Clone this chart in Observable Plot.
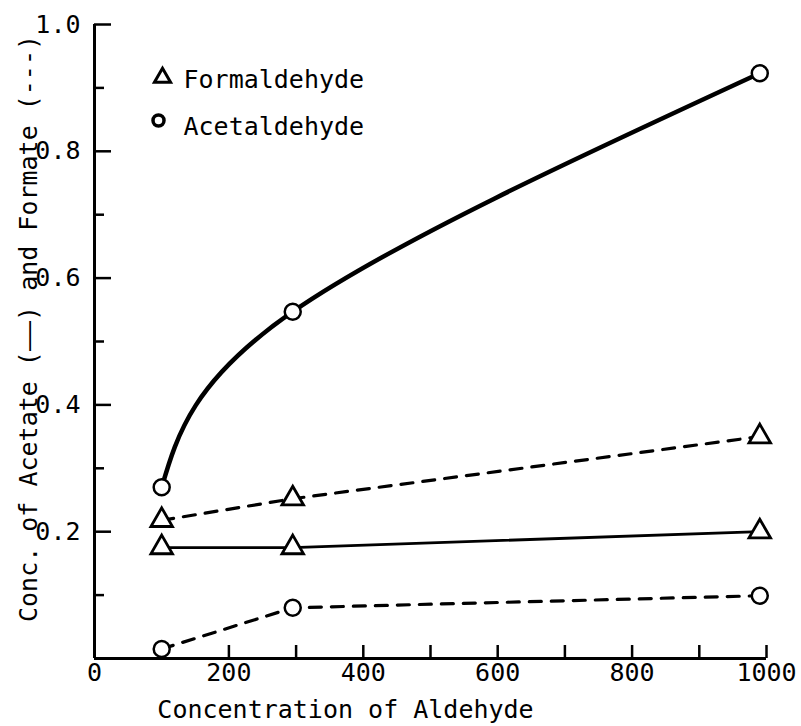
<!DOCTYPE html>
<html>
<head>
<meta charset="utf-8">
<script src="https://cdn.jsdelivr.net/npm/d3@7"></script>
<script src="https://cdn.jsdelivr.net/npm/@observablehq/plot@0.6"></script>
<style>
  body { margin: 0; background: #fff; }
  #chart { width: 801px; height: 726px; }
</style>
</head>
<body>
<div id="chart"></div>
<script>
// ---- data ----
const concentration = [100, 295, 990];
const formaldehydeAcetate = [0.175, 0.175, 0.2];
const formaldehydeFormate = [0.218, 0.252, 0.35];
const acetaldehydeAcetate = [0.27, 0.547, 0.923];
const acetaldehydeFormate = [0.015, 0.08, 0.099];

const xTickLabels = [0, 200, 400, 600, 800, 1000];
const xTicks = [100, 200, 300, 400, 500, 600, 700, 800, 900, 1000];
const yTickLabels = [0.2, 0.4, 0.6, 0.8, 1.0];
const yMinorTicks = [0.1, 0.3, 0.5, 0.7, 0.9];

const xTitle = "Concentration of Aldehyde";
const yTitle = "Conc. of Acetate (——) and Formate (---)";
const legendFormaldehyde = "Formaldehyde";
const legendAcetaldehyde = "Acetaldehyde";

function series(ys) { return concentration.map((x, i) => ({x, y: ys[i]})); }

const font = "DejaVu Sans Mono";
const chart = Plot.plot({
  width: 801,
  height: 726,
  marginLeft: 94,
  marginRight: 35,
  marginTop: 24,
  marginBottom: 68,
  x: {domain: [0, 1000]},
  y: {domain: [0, 1]},
  style: {fontFamily: font, fontSize: "25px", color: "black", background: "white"},
  marks: [
    Plot.ruleX([0], {y1: 0, y2: 1, strokeWidth: 3}),
    Plot.ruleY([0], {x1: 0, x2: 1000, strokeWidth: 3}),
    Plot.axisX(xTicks, {anchor: "bottom", tickSize: -13, tickFormat: () => "", label: null, strokeWidth: 2.5}),
    Plot.axisX(xTickLabels, {anchor: "bottom", tickSize: 0, tickPadding: 5, tickFormat: d => String(d), label: null, fontSize: 25}),
    Plot.axisY(yMinorTicks, {anchor: "left", tickSize: -10, tickFormat: () => "", label: null, strokeWidth: 2.5}),
    Plot.axisY(yTickLabels, {anchor: "left", tickSize: -17, tickPadding: 31, tickFormat: d => d.toFixed(1), label: null, strokeWidth: 2.5, fontSize: 25}),
    Plot.text([xTitle], {frameAnchor: "bottom", textAnchor: "middle", lineAnchor: "middle", dx: -85, dy: 51, fontSize: 25}),
    Plot.text([yTitle], {frameAnchor: "left", textAnchor: "middle", lineAnchor: "middle", rotate: -90, dx: -66, dy: -13, fontSize: 25}),
    Plot.line(series(acetaldehydeAcetate), {x: "x", y: "y", curve: "natural", strokeWidth: 4.5}),
    Plot.line(series(formaldehydeAcetate), {x: "x", y: "y", strokeWidth: 2.8}),
    Plot.line(series(formaldehydeFormate), {x: "x", y: "y", strokeWidth: 3.2, strokeDasharray: "12,10"}),
    Plot.line(series(acetaldehydeFormate), {x: "x", y: "y", strokeWidth: 3.2, strokeDasharray: "12,10"}),
    Plot.dot(series(formaldehydeAcetate).concat(series(formaldehydeFormate)), {x: "x", y: "y", symbol: "triangle", r: 8, stroke: "black", fill: "white", strokeWidth: 2.8}),
    Plot.dot(series(acetaldehydeAcetate).concat(series(acetaldehydeFormate)), {x: "x", y: "y", symbol: "circle", r: 8, stroke: "black", fill: "white", strokeWidth: 2.5}),
    // legend
    Plot.dot([legendFormaldehyde], {frameAnchor: "top-left", dx: 68, dy: 53, symbol: "triangle", r: 6, stroke: "black", strokeWidth: 3}),
    Plot.dot([legendAcetaldehyde], {frameAnchor: "top-left", dx: 64, dy: 96, symbol: "circle", r: 5.5, stroke: "black", strokeWidth: 3.5}),
    Plot.text([legendFormaldehyde], {frameAnchor: "top-left", textAnchor: "start", lineAnchor: "middle", dx: 89, dy: 55, fontSize: 25}),
    Plot.text([legendAcetaldehyde], {frameAnchor: "top-left", textAnchor: "start", lineAnchor: "middle", dx: 89, dy: 102, fontSize: 25})
  ]
});
document.getElementById("chart").appendChild(chart);
</script>
</body>
</html>
